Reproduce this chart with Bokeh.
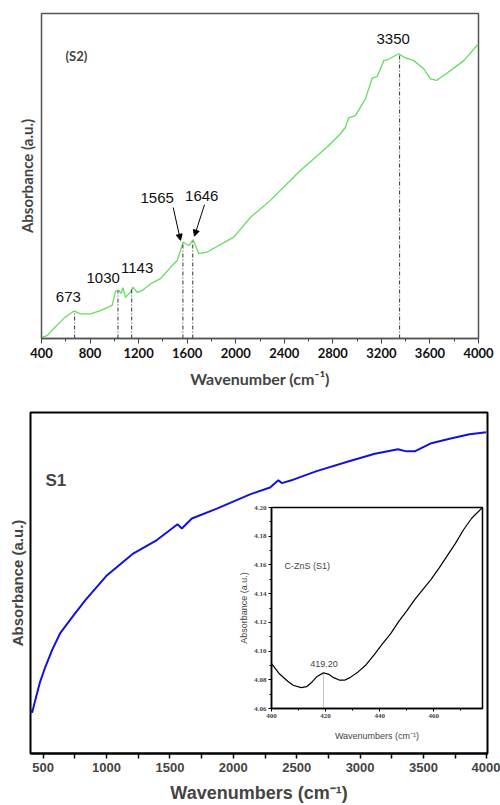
import numpy as np
from bokeh.plotting import figure
from bokeh.layouts import column
from bokeh.models import (Range1d, FixedTicker, Label, Arrow, NormalHead, PrintfTickFormatter,
                          Title)
from bokeh.embed import file_html
from bokeh.resources import INLINE

# ---------------- data: S2 (top panel, green) ----------------
s2_wavenumber = [405, 447, 501, 584, 653, 672, 721, 804, 886, 982, 1010, 1037, 1057, 1070,
                 1092, 1133, 1155, 1188, 1229, 1298, 1380, 1463, 1518, 1567, 1613, 1649,
                 1696, 1765, 1984, 2122, 2286, 2533, 2753, 2863, 2904, 2931, 2986, 3069,
                 3124, 3165, 3220, 3247, 3343, 3384, 3467, 3549, 3604, 3654, 3714, 3879, 4000]
s2_absorbance = [0.004, 0.009, 0.031, 0.062, 0.081, 0.084, 0.076, 0.076, 0.086, 0.102, 0.146,
                 0.148, 0.139, 0.156, 0.127, 0.142, 0.158, 0.142, 0.148, 0.168, 0.184, 0.219,
                 0.240, 0.296, 0.286, 0.304, 0.261, 0.266, 0.312, 0.373, 0.425, 0.517, 0.589,
                 0.630, 0.650, 0.679, 0.686, 0.738, 0.801, 0.806, 0.855, 0.857, 0.876, 0.866,
                 0.855, 0.830, 0.799, 0.794, 0.809, 0.855, 0.907]
s2_peaks = [673, 1030, 1143, 1565, 1646, 3350]
s2_peak_abs = [0.083, 0.147, 0.152, 0.296, 0.304, 0.876]
s2_peak_labels = ["673", "1030", "1143", "1565", "1646", "3350"]
s2_x_ticks = [400, 800, 1200, 1600, 2000, 2400, 2800, 3200, 3600, 4000]

# ---------------- data: S1 (bottom panel, blue) ----------------
s1_wavenumber = [400, 413, 439, 473, 518, 571, 636, 741, 833, 1004, 1213, 1397, 1542, 1560,
                 1594, 1673, 1870, 2132, 2290, 2355, 2382, 2473, 2657, 2893, 3116, 3299,
                 3365, 3431, 3562, 3706, 3864, 3995]
s1_absorbance = [0.127, 0.120, 0.158, 0.207, 0.255, 0.304, 0.354, 0.406, 0.450, 0.523, 0.587,
                 0.626, 0.667, 0.672, 0.660, 0.689, 0.718, 0.760, 0.780, 0.801, 0.793, 0.803,
                 0.828, 0.855, 0.879, 0.892, 0.886, 0.886, 0.910, 0.923, 0.936, 0.942]
s1_x_ticks = [500, 1000, 1500, 2000, 2500, 3000, 3500, 4000]

# ---------------- data: inset C-ZnS (S1) ----------------
inset_wavenumber = [400, 403, 406, 408, 411, 413, 415, 417, 419.2, 421, 423, 425, 427, 429,
                    432, 435, 438, 441, 444, 447, 450, 453, 456, 459, 462, 465, 468, 471,
                    474, 478]
inset_absorbance = [4.0913, 4.084, 4.079, 4.0762, 4.0745, 4.0752, 4.0785, 4.0825, 4.0848,
                    4.0840, 4.0815, 4.0798, 4.0797, 4.0815, 4.0855, 4.0905, 4.0975, 4.105,
                    4.112, 4.1205, 4.128, 4.136, 4.143, 4.150, 4.158, 4.1665, 4.175, 4.1845,
                    4.1925, 4.200]
inset_peak = 419.2
inset_peak_abs = 4.0848
inset_peak_label = "419.20"
inset_x_ticks = [400, 420, 440, 460]
inset_y_ticks = [4.06, 4.08, 4.10, 4.12, 4.14, 4.16, 4.18, 4.20]

CAL = "Lato"
ARIAL = "Liberation Sans"

# ================= top figure =================
p1 = figure(width=500, height=400, x_range=Range1d(400, 4000), y_range=Range1d(0, 1),
            output_backend="svg", toolbar_location=None, frame_align=False,
            min_border_left=41, min_border_right=22, min_border_top=13, min_border_bottom=62)
p1.grid.visible = False
p1.outline_line_color = "#555555"
p1.outline_line_width = 1.5
p1.border_fill_color = "white"
p1.yaxis.visible = False
p1.add_layout(Title(text="Absorbance (a.u.)", align="center", text_font=CAL,
                    text_font_style="bold", text_font_size="15px", standoff=11), "left")

p1.line(s2_wavenumber, s2_absorbance, line_color="#66dd5e", line_width=1.3)
p1.segment(x0=s2_peaks, y0=[0] * len(s2_peaks), x1=s2_peaks, y1=s2_peak_abs,
           line_color="#333333", line_width=1, line_dash="4 2 1 2")
label_pos = [(621, 0.127), (908, 0.185), (1188, 0.216), (1353, 0.432), (1720, 0.438), (3297, 0.921)]
for (lx, ly), txt in zip(label_pos, s2_peak_labels):
    p1.add_layout(Label(x=lx, y=ly, text=txt, text_align="center", text_baseline="middle",
                        text_font=ARIAL, text_font_size="15px", text_color="#111111"))
p1.add_layout(Arrow(end=NormalHead(size=6, fill_color="black", line_color="black"),
                    x_start=1485, y_start=0.403, x_end=1545, y_end=0.302,
                    line_color="black", line_width=1))
p1.add_layout(Arrow(end=NormalHead(size=6, fill_color="black", line_color="black"),
                    x_start=1743, y_start=0.412, x_end=1660, y_end=0.315,
                    line_color="black", line_width=1))
p1.add_layout(Label(x=598, y=0.868, text="(S2)", text_align="left", text_baseline="middle",
                    text_font=CAL, text_font_style="bold", text_font_size="13px"))

xa = p1.xaxis[0]
xa.ticker = FixedTicker(ticks=s2_x_ticks, minor_ticks=[t + 200 for t in s2_x_ticks[:-1]])
xa.axis_line_color = "#555555"
xa.axis_line_width = 1.5
xa.major_tick_in = 0
xa.major_tick_out = 5
xa.minor_tick_in = 0
xa.minor_tick_out = 3
xa.major_tick_line_color = "#444444"
xa.minor_tick_line_color = "#444444"
xa.major_label_text_font = CAL
xa.major_label_text_font_style = "bold"
xa.major_label_text_font_size = "13px"
xa.major_label_text_color = "#111111"
xa.major_label_standoff = 4
xa.axis_label = "Wavenumber (cm\u207b\u00b9)"
xa.axis_label_text_font = CAL
xa.axis_label_text_font_style = "bold"
xa.axis_label_text_font_size = "16px"
xa.axis_label_standoff = 8

# ================= bottom figure =================
p2 = figure(width=500, height=405, x_range=Range1d(400, 4005), y_range=Range1d(0, 1),
            output_backend="svg", toolbar_location=None, frame_align=False,
            min_border_left=30, min_border_right=13, min_border_top=12, min_border_bottom=51)
p2.grid.visible = False
p2.outline_line_color = "black"
p2.outline_line_width = 2
p2.border_fill_color = "white"
p2.yaxis.visible = False
p2.add_layout(Title(text="Absorbance (a.u.)", align="center", text_font=ARIAL,
                    text_font_style="bold", text_font_size="15px", standoff=10), "left")

p2.line(s1_wavenumber, s1_absorbance, line_color="#1212dc", line_width=2)
p2.add_layout(Label(x=518, y=0.80, text="S1", text_align="left", text_baseline="middle",
                    text_font=ARIAL, text_font_style="bold", text_font_size="17px"))

xb = p2.xaxis[0]
xb.ticker = FixedTicker(ticks=s1_x_ticks, minor_ticks=[t + 250 for t in s1_x_ticks[:-1]])
xb.axis_line_color = "black"
xb.axis_line_width = 2
xb.major_tick_in = 0
xb.major_tick_out = 5
xb.minor_tick_in = 0
xb.minor_tick_out = 5
xb.major_tick_line_width = 1.5
xb.minor_tick_line_width = 1.5
xb.major_label_text_font = ARIAL
xb.major_label_text_font_style = "bold"
xb.major_label_text_font_size = "13px"
xb.major_label_standoff = 4
xb.axis_label = "Wavenumbers (cm\u207b\u00b9)"
xb.axis_label_text_font = ARIAL
xb.axis_label_text_font_style = "bold"
xb.axis_label_text_font_size = "18px"
xb.axis_label_standoff = 8

# ================= inset figure =================
p3 = figure(width=255, height=247, x_range=Range1d(400, 478), y_range=Range1d(4.06, 4.20),
            output_backend="svg", toolbar_location=None, frame_align=False,
            min_border_left=42, min_border_right=2, min_border_top=6, min_border_bottom=40)
p3.margin = (-304, 0, 57, 229)
p3.grid.visible = False
p3.outline_line_color = "black"
p3.outline_line_width = 1.5
p3.background_fill_color = "white"
p3.border_fill_alpha = 0

p3.line(inset_wavenumber, inset_absorbance, line_color="black", line_width=1.2)
p3.segment(x0=[inset_peak], y0=[4.06], x1=[inset_peak], y1=[inset_peak_abs],
           line_color="#888888", line_width=1, line_dash="1 1")
p3.add_layout(Label(x=419.4, y=4.0913, text=inset_peak_label, text_align="center",
                    text_baseline="middle", text_font=ARIAL, text_font_size="9px"))
p3.add_layout(Label(x=404.8, y=4.1596, text="C-ZnS (S1)", text_align="left",
                    text_baseline="middle", text_font=ARIAL, text_font_size="9px"))

xc = p3.xaxis[0]
xc.ticker = FixedTicker(ticks=inset_x_ticks, minor_ticks=[t + 10 for t in inset_x_ticks])
yc = p3.yaxis[0]
yc.ticker = FixedTicker(ticks=inset_y_ticks,
                        minor_ticks=[round(t + 0.01, 2) for t in inset_y_ticks[:-1]])
yc.formatter = PrintfTickFormatter(format="%.2f")
for ax in (xc, yc):
    ax.axis_line_color = "black"
    ax.axis_line_width = 1.5
    ax.major_tick_in = 0
    ax.major_tick_out = 3
    ax.minor_tick_in = 0
    ax.minor_tick_out = 2
    ax.major_label_text_font = "Liberation Sans Narrow"
    ax.major_label_text_font_style = "bold"
    ax.major_label_text_font_size = "7px"
    ax.major_label_standoff = 2
    ax.axis_label_text_font = ARIAL
    ax.axis_label_text_font_size = "9px"
    ax.axis_label_text_font_style = "normal"
xc.axis_label = "Wavenumbers (cm\u207b\u00b9)"
xc.axis_label_standoff = 10
yc.axis_label = "Absorbance (a.u.)"
yc.axis_label_standoff = 2
yc.major_label_orientation = "horizontal"

layout = column(p1, p2, p3)
open("out.html", "w").write(file_html(layout, INLINE))
